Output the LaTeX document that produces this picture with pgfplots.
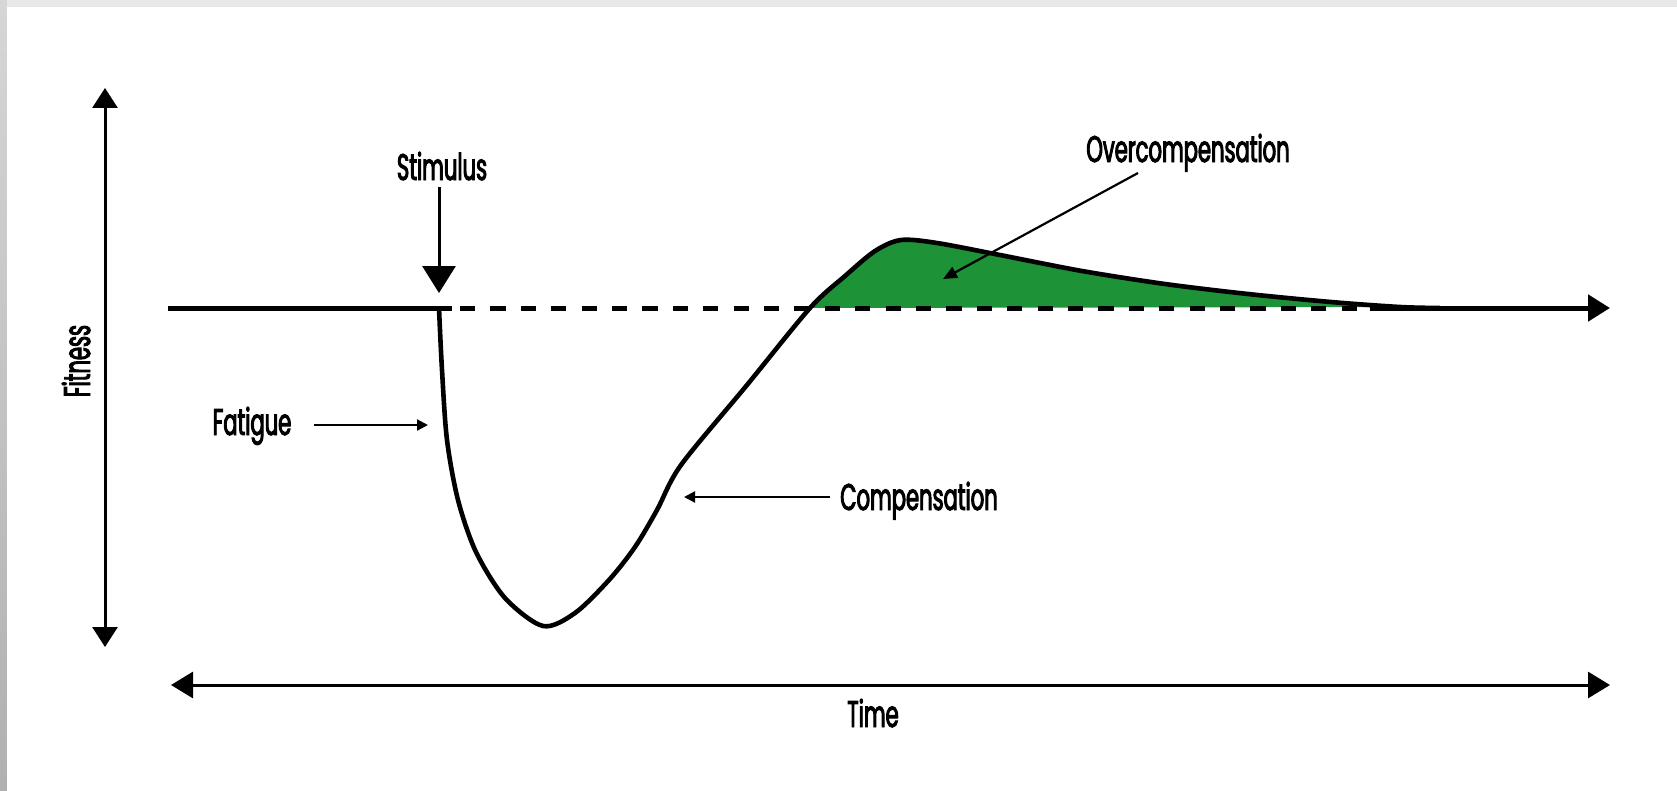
\documentclass[border=0pt]{standalone}
\usepackage{pgfplots}
\pgfplotsset{compat=1.18}
\usetikzlibrary{arrows.meta}
\usepackage{fontspec}
\setmainfont{Poppins}[FakeStretch=0.57, FakeBold=2.6]
\definecolor{ocgreen}{RGB}{29,146,54}
\definecolor{topband}{RGB}{232,232,232}
\tikzset{lbl/.style={font=\fontsize{18.5bp}{22bp}\selectfont, inner sep=0pt, anchor=base}}
\begin{document}
\begin{tikzpicture}
\begin{axis}[
  width=838.5bp, height=395.5bp, scale only axis,
  xmin=0, xmax=1677, ymin=0, ymax=791, y dir=reverse,
  hide axis, clip=false,
]
% background and frame
\fill[white] (axis cs:0,0) rectangle (axis cs:1677,791);
\fill[topband] (axis cs:0,0) rectangle (axis cs:1677,7);
\shade[top color={rgb,255:red,214;green,214;blue,214}, bottom color={rgb,255:red,176;green,176;blue,176}] (axis cs:0,0) rectangle (axis cs:7,791);

% overcompensation area
\addplot[fill=ocgreen, draw=none, smooth, tension=0.5] coordinates {
 (810,308) (845,276) (875,251) (901,240) (937,243) (1000,255) (1082,271)
 (1165,284) (1248,294) (1331,302) (1400,307)} --cycle;

% baseline
\addplot[line width=2.5bp] coordinates {(168,308) (452,308)};
\addplot[line width=2.5bp, dash pattern=on 7.6bp off 7.6bp] coordinates {(460,308) (1380,308)};
\addplot[line width=2.5bp, -{Triangle[width=13bp,length=11bp]}] coordinates {(1370,308) (1610,308)};

% fitness curve
\addplot[line width=2.3bp, smooth, tension=0.5] coordinates {
 (439,308) (442,370) (447,440) (458,500) (476,552) (505,598) (543,626)
 (575,613) (609,580) (635,547) (657,510) (681,465) (747,385)
 (810,308) (845,276) (875,251) (901,240) (937,243) (1000,255) (1082,271)
 (1165,284) (1248,294) (1331,302) (1400,307) (1440,308)};

% axes arrows
\addplot[line width=1.5bp, {Triangle[width=12.5bp,length=10bp]}-{Triangle[width=12.5bp,length=10bp]}] coordinates {(105,647) (105,88)};
\addplot[line width=1.5bp, {Triangle[width=13bp,length=11bp]}-{Triangle[width=13bp,length=11bp]}] coordinates {(171,685) (1610,685)};

% stimulus arrow
\addplot[line width=1.5bp, -{Triangle[width=16.5bp,length=13.5bp]}] coordinates {(439,187) (439,293)};
% annotation arrows
\addplot[line width=1.1bp, -{Triangle[width=5.5bp,length=5.5bp]}] coordinates {(314,425) (428,425)};
\addplot[line width=1.1bp, -{Triangle[width=5.5bp,length=5.5bp]}] coordinates {(830,497) (684,497)};
\addplot[line width=1.1bp, -{Triangle[width=6bp,length=7bp]}] coordinates {(1138,173) (943,279)};

% labels
\node[lbl] at (axis cs:442,180) {Stimulus};
\node[lbl] at (axis cs:1188,162) {Overcompensation};
\node[lbl] at (axis cs:252,435) {Fatigue};
\node[lbl] at (axis cs:919,510) {Compensation};
\node[lbl] at (axis cs:873,727) {Time};
\node[lbl, rotate=90] at (axis cs:90,361) {Fitness};
\end{axis}
\end{tikzpicture}
\end{document}
